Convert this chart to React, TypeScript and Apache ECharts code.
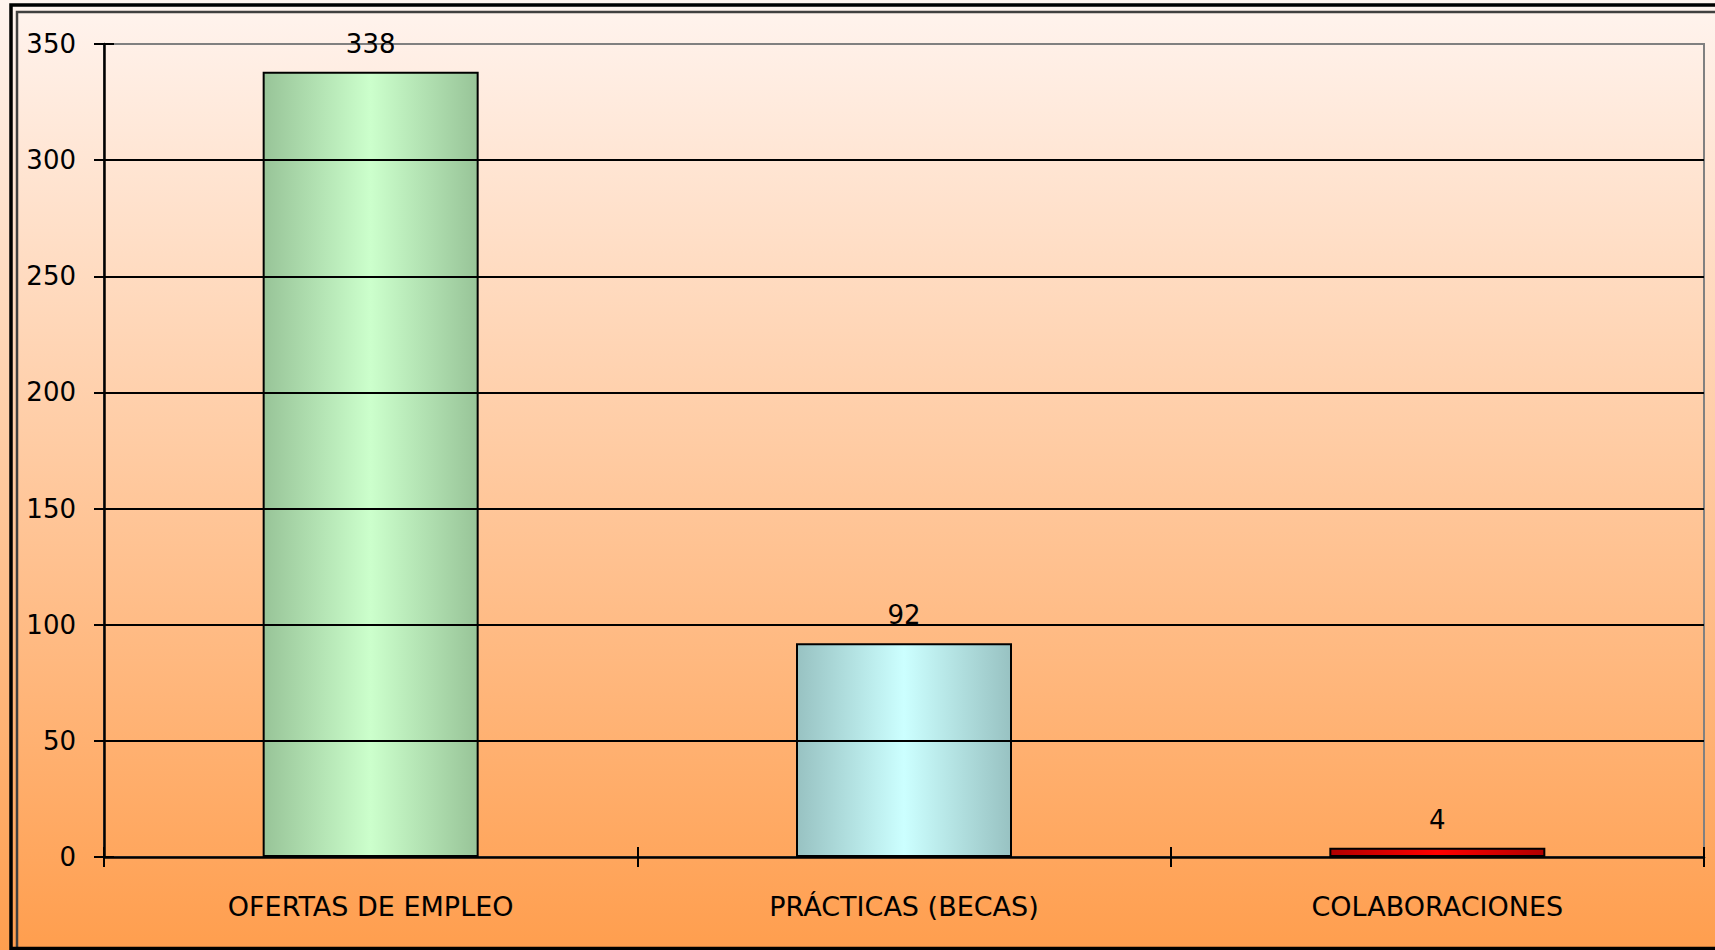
import React, { useEffect, useRef } from "react";
import * as echarts from "echarts";

const categories = ["OFERTAS DE EMPLEO", "PRÁCTICAS (BECAS)", "COLABORACIONES"];
const values = [338, 92, 4];
const barEdgeColors = ["#98C498", "#98C2C2", "#B00000"];
const barCenterColors = ["#CCFFCC", "#CCFFFF", "#FF0000"];
const yMin = 0;
const yMax = 350;
const yInterval = 50;

const FONT = "'DejaVu Sans', 'Liberation Sans', sans-serif";

export default function App() {
  const ref = useRef<HTMLDivElement>(null);
  useEffect(() => {
    if (!ref.current) return;
    const chart = echarts.init(ref.current, undefined, { renderer: "svg" });
    const data = values.map((v, i) => ({
      value: v,
      itemStyle: {
        color: new echarts.graphic.LinearGradient(0, 0, 1, 0, [
          { offset: 0, color: barEdgeColors[i] },
          { offset: 0.5, color: barCenterColors[i] },
          { offset: 1, color: barEdgeColors[i] },
        ]),
        borderColor: "#000",
        borderWidth: 2,
      },
    }));
    chart.setOption({
      animation: false,
      backgroundColor: new echarts.graphic.LinearGradient(0, 0, 0, 1, [
        { offset: 0, color: "#FFF4EF" },
        { offset: 1, color: "#FF9E4E" },
      ]),
      graphic: [
        {
          type: "rect",
          shape: { x: 11, y: 5, width: 1800, height: 943.5 },
          style: { fill: "none", stroke: "#000", lineWidth: 3.5 },
          z: 100,
        },
        {
          type: "rect",
          shape: { x: 17, y: 12, width: 1800, height: 1000 },
          style: { fill: "none", stroke: "#404040", lineWidth: 2.5 },
          z: 99,
        },
      ],
      grid: {
        left: 104,
        right: 11,
        top: 44,
        bottom: 93,
        show: true,
        borderColor: "#808080",
        borderWidth: 2,
        backgroundColor: "transparent",
      },
      xAxis: [
        {
          type: "category",
          data: categories,
          axisLine: { show: true, lineStyle: { color: "#000", width: 2.5 } },
          axisTick: { show: true, length: 10, lineStyle: { color: "#000", width: 2 } },
          axisLabel: { color: "#000", fontSize: 27, fontFamily: FONT, margin: 36 },
          z: 10,
        },
        {
          type: "category",
          data: categories,
          position: "bottom",
          axisLine: { show: false },
          axisTick: { show: true, inside: true, length: 10, lineStyle: { color: "#000", width: 2 } },
          axisLabel: { show: false },
          splitLine: { show: false },
        },
      ],
      yAxis: [
        {
          type: "value",
          min: yMin,
          max: yMax,
          interval: yInterval,
          axisLine: { show: true, lineStyle: { color: "#000", width: 2.5 } },
          axisTick: { show: true, length: 10, lineStyle: { color: "#000", width: 2 } },
          axisLabel: { color: "#000", fontSize: 26, fontFamily: FONT, margin: 28 },
          splitLine: { show: true, showMaxLine: false, showMinLine: false, lineStyle: { color: "#000", width: 2 } },
          z: 10,
        },
        {
          type: "value",
          min: yMin,
          max: yMax,
          interval: yInterval,
          position: "left",
          axisLine: { show: false },
          axisTick: { show: true, inside: true, length: 10, lineStyle: { color: "#000", width: 2 } },
          axisLabel: { show: false },
          splitLine: { show: false },
        },
      ],
      series: [
        {
          type: "bar",
          xAxisIndex: 0,
          yAxisIndex: 0,
          data,
          barWidth: "40.5%",
          label: {
            show: true,
            position: "top",
            distance: 15,
            color: "#000",
            fontSize: 26,
            fontFamily: FONT,
          },
        },
      ],
    });
    return () => chart.dispose();
  }, []);
  return (
    <div
      ref={ref}
      style={{ position: "absolute", left: 0, top: 0, width: 1715, height: 950 }}
    />
  );
}
